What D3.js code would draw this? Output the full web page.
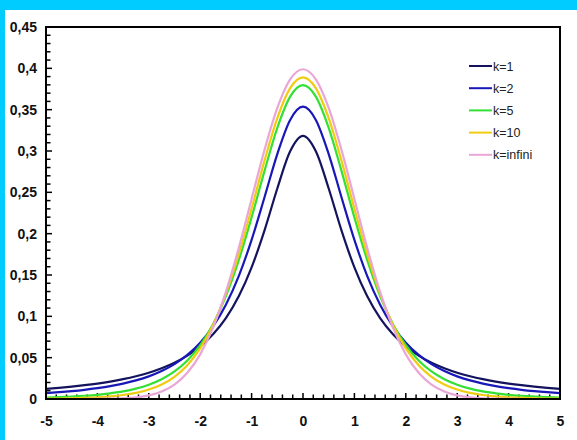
<!DOCTYPE html>
<html>
<head>
<meta charset="utf-8">
<script src="https://cdn.jsdelivr.net/npm/d3@7"></script>
<style>
  html, body { margin: 0; padding: 0; background: #00ccff; }
  svg { display: block; }
</style>
</head>
<body>
<div class="chart-container"></div>
<script>
// x positions (step 0.25)
const xValues = [-5, -4.75, -4.5, -4.25, -4, -3.75, -3.5, -3.25, -3, -2.75, -2.5, -2.25, -2, -1.75, -1.5, -1.25, -1, -0.75, -0.5, -0.25,
  0, 0.25, 0.5, 0.75, 1, 1.25, 1.5, 1.75, 2, 2.25, 2.5, 2.75, 3, 3.25, 3.5, 3.75, 4, 4.25, 4.5, 4.75, 5];

const k1 = [0.0122, 0.0135, 0.0150, 0.0167, 0.0187, 0.0211, 0.0240, 0.0275, 0.0318, 0.0372, 0.0439, 0.0525, 0.0637, 0.0784, 0.0979, 0.1242, 0.1592, 0.2037, 0.2546, 0.2996,
  0.3183, 0.2996, 0.2546, 0.2037, 0.1592, 0.1242, 0.0979, 0.0784, 0.0637, 0.0525, 0.0439, 0.0372, 0.0318, 0.0275, 0.0240, 0.0211, 0.0187, 0.0167, 0.0150, 0.0135, 0.0122];
const k2 = [0.0071, 0.0082, 0.0095, 0.0111, 0.0131, 0.0155, 0.0186, 0.0225, 0.0274, 0.0338, 0.0422, 0.0533, 0.0680, 0.0878, 0.1141, 0.1487, 0.1925, 0.2438, 0.2963, 0.3376,
  0.3536, 0.3376, 0.2963, 0.2438, 0.1925, 0.1487, 0.1141, 0.0878, 0.0680, 0.0533, 0.0422, 0.0338, 0.0274, 0.0225, 0.0186, 0.0155, 0.0131, 0.0111, 0.0095, 0.0082, 0.0071];
const k5 = [0.0018, 0.0023, 0.0030, 0.0039, 0.0051, 0.0069, 0.0092, 0.0126, 0.0173, 0.0239, 0.0333, 0.0466, 0.0651, 0.0905, 0.1245, 0.1679, 0.2197, 0.2757, 0.3279, 0.3657,
  0.3796, 0.3657, 0.3279, 0.2757, 0.2197, 0.1679, 0.1245, 0.0905, 0.0651, 0.0466, 0.0333, 0.0239, 0.0173, 0.0126, 0.0092, 0.0069, 0.0051, 0.0039, 0.0030, 0.0023, 0.0018];
const k10 = [0.0004, 0.0006, 0.0009, 0.0013, 0.0020, 0.0031, 0.0048, 0.0074, 0.0114, 0.0176, 0.0269, 0.0409, 0.0612, 0.0895, 0.1275, 0.1751, 0.2304, 0.2880, 0.3397, 0.3760,
  0.3891, 0.3760, 0.3397, 0.2880, 0.2304, 0.1751, 0.1275, 0.0895, 0.0612, 0.0409, 0.0269, 0.0176, 0.0114, 0.0074, 0.0048, 0.0031, 0.0020, 0.0013, 0.0009, 0.0006, 0.0004];
const kInf = [0.0000, 0.0000, 0.0000, 0.0000, 0.0001, 0.0004, 0.0009, 0.0020, 0.0044, 0.0091, 0.0175, 0.0317, 0.0540, 0.0863, 0.1295, 0.1827, 0.2420, 0.3011, 0.3521, 0.3867,
  0.3989, 0.3867, 0.3521, 0.3011, 0.2420, 0.1827, 0.1295, 0.0863, 0.0540, 0.0317, 0.0175, 0.0091, 0.0044, 0.0020, 0.0009, 0.0004, 0.0001, 0.0000, 0.0000, 0.0000, 0.0000];

const seriesNames = ["k=1", "k=2", "k=5", "k=10", "k=infini"];
const seriesColors = ["#14145e", "#1818b8", "#33e033", "#f0cc10", "#eaa6d6"];
const seriesValues = [k1, k2, k5, k10, kInf];

const xTicks = [-5, -4, -3, -2, -1, 0, 1, 2, 3, 4, 5];
const yTicks = [0, 0.05, 0.1, 0.15, 0.2, 0.25, 0.3, 0.35, 0.4, 0.45];

function draw() {
    const width = 577;
    const height = 440;
    const marginTop = 27;
    const marginRight = 17;
    const marginBottom = 41;
    const marginLeft = 46;

    const svg = d3.select('.chart-container').append("svg")
        .attr("width", width)
        .attr("height", height);

    // white panel inside the cyan frame
    svg.append("rect")
        .attr("x", 5).attr("y", 10)
        .attr("width", width - 5).attr("height", height - 10)
        .attr("fill", "#ffffff");

    const x = d3.scaleLinear()
        .domain([-5, 5])
        .range([marginLeft, width - marginRight]);

    const y = d3.scaleLinear()
        .domain([0, 0.45])
        .range([height - marginBottom, marginTop]);

    const fmt = d => String(+d.toFixed(2)).replace(".", ",");

    // Y axis: minor ticks every 0.01 pointing inward
    const yMinor = d3.range(0, 46).map(i => i / 100);
    svg.append("g")
        .selectAll("line")
        .data(yMinor)
        .enter()
        .append("line")
        .attr("x1", marginLeft)
        .attr("x2", d => marginLeft + (Math.round(d * 100) % 5 === 0 ? 6 : 4.5))
        .attr("y1", d => y(d))
        .attr("y2", d => y(d))
        .attr("stroke", "#000")
        .attr("stroke-width", 1.5);

    svg.append("g")
        .attr("transform", `translate(${marginLeft},0)`)
        .call(d3.axisLeft(y).tickValues(yTicks).tickFormat(fmt).tickSize(0).tickPadding(9))
        .call(g => g.select(".domain").remove())
        .call(g => g.selectAll("text")
            .attr("font-family", "Liberation Sans, Arial, sans-serif")
            .attr("font-weight", "bold")
            .attr("font-size", 14)
            .attr("fill", "#111"));

    // X axis: minor ticks every 0.2 pointing inward
    const xMinor = d3.range(0, 51).map(i => -5 + i * 0.2);
    svg.append("g")
        .selectAll("line")
        .data(xMinor)
        .enter()
        .append("line")
        .attr("x1", d => x(d))
        .attr("x2", d => x(d))
        .attr("y1", height - marginBottom)
        .attr("y2", (d, i) => height - marginBottom - (i % 5 === 0 ? 6 : 4.5))
        .attr("stroke", "#000")
        .attr("stroke-width", 1.5);

    svg.append("g")
        .attr("transform", `translate(0,${height - marginBottom})`)
        .call(d3.axisBottom(x).tickValues(xTicks).tickFormat(d => String(d)).tickSize(0).tickPadding(17))
        .call(g => g.select(".domain").remove())
        .call(g => g.selectAll("text")
            .attr("font-family", "Liberation Sans, Arial, sans-serif")
            .attr("font-weight", "bold")
            .attr("font-size", 14)
            .attr("fill", "#111"));

    // curves
    const line = d3.line()
        .x((d, i) => x(xValues[i]))
        .y(d => y(d))
        .curve(d3.curveMonotoneX);

    svg.append("g")
        .selectAll("path")
        .data(seriesValues)
        .enter()
        .append("path")
        .attr("d", line)
        .attr("fill", "none")
        .attr("stroke", (d, i) => seriesColors[i])
        .attr("stroke-width", 2.2);

    // frame
    svg.append("rect")
        .attr("x", marginLeft)
        .attr("y", marginTop)
        .attr("width", width - marginLeft - marginRight)
        .attr("height", height - marginTop - marginBottom)
        .attr("fill", "none")
        .attr("stroke", "#000")
        .attr("stroke-width", 2);

    // legend
    const legend = svg.append("g").attr("id", "legend");
    const items = legend.selectAll("g")
        .data(seriesNames)
        .enter()
        .append("g")
        .attr("transform", (d, i) => `translate(469,${66 + i * 22.2})`);

    items.append("line")
        .attr("x1", 0).attr("x2", 23)
        .attr("stroke", (d, i) => seriesColors[i])
        .attr("stroke-width", 2);

    items.append("text")
        .attr("x", 24)
        .attr("y", 4.5)
        .attr("font-family", "Liberation Sans, Arial, sans-serif")
        .attr("font-size", 12.5)
        .attr("fill", "#222")
        .text(d => d);
}

draw();
</script>
</body>
</html>
